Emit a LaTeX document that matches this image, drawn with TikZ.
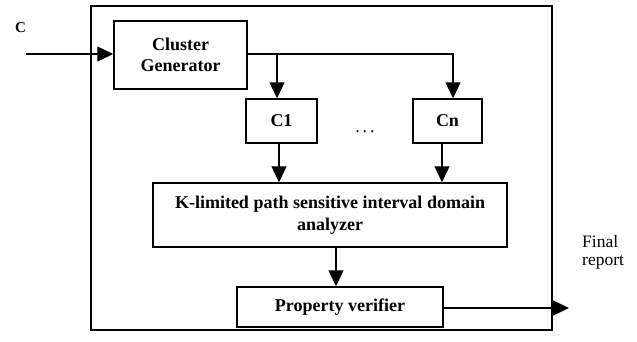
\documentclass[tikz,border=0pt]{standalone}
\usepackage{fontspec}
\setmainfont{Liberation Serif}
\usetikzlibrary{arrows.meta}
\begin{document}
\begin{tikzpicture}[x=1pt,y=-1pt,
  blk/.style={draw,line width=1.5pt,inner sep=0pt,font=\bfseries\fontsize{18}{21.5}\selectfont,align=center},
  flow/.style={line width=1.4pt,-{Triangle[length=16pt,width=15pt]}},
  lbl/.style={inner sep=0pt,align=left}]
\useasboundingbox (0,0) rectangle (637,341);
% enclosing system frame
\node[draw,line width=1.7pt,minimum width=461pt,minimum height=324pt,inner sep=0pt] (frame) at (321.5,168) {};
% processing blocks
\node[blk,minimum width=133pt,minimum height=68pt] (cg) at (180.5,55) {Cluster\\Generator};
\node[blk,minimum width=71pt,minimum height=44pt] (c1) at (281.5,121) {C1};
\node[blk,minimum width=69pt,minimum height=44pt] (cn) at (447.5,121) {Cn};
\node[lbl,font=\fontsize{18}{20}\selectfont,anchor=base] (dots) at (365,132) {.\,.\,.};
\node[blk,minimum width=354pt,minimum height=64pt] (kl) at (330,215) {K-limited path sensitive interval domain\\analyzer};
\node[blk,minimum width=206pt,minimum height=40pt] (pv) at (340,307) {Property verifier};
% external input and output
\coordinate (in) at (26,54);
\coordinate (out) at (569,308);
\node[lbl,font=\bfseries\fontsize{15}{16}\selectfont,anchor=base] (clab) at (20.5,32) {C};
\node[lbl,anchor=base west,font=\fontsize{17.5}{18}\selectfont] (flab) at (582,265) {Final\\report};
% connectors
\draw[flow] (in) -- (in -| cg.west);
\draw[flow] (cg.east |- 0,54) -| (c1.north -| 277,0);
\draw[flow] (cg.east |- 0,54) -| (cn.north -| 453,0);
\draw[flow] (c1.south -| 279,0) -- (kl.north -| 279,0);
\draw[flow] (cn.south -| 442,0) -- (kl.north -| 442,0);
\draw[flow] (kl.south -| 336,0) -- (pv.north -| 336,0);
\draw[flow] (pv.east |- 0,308) -- (out);
\end{tikzpicture}
\end{document}
